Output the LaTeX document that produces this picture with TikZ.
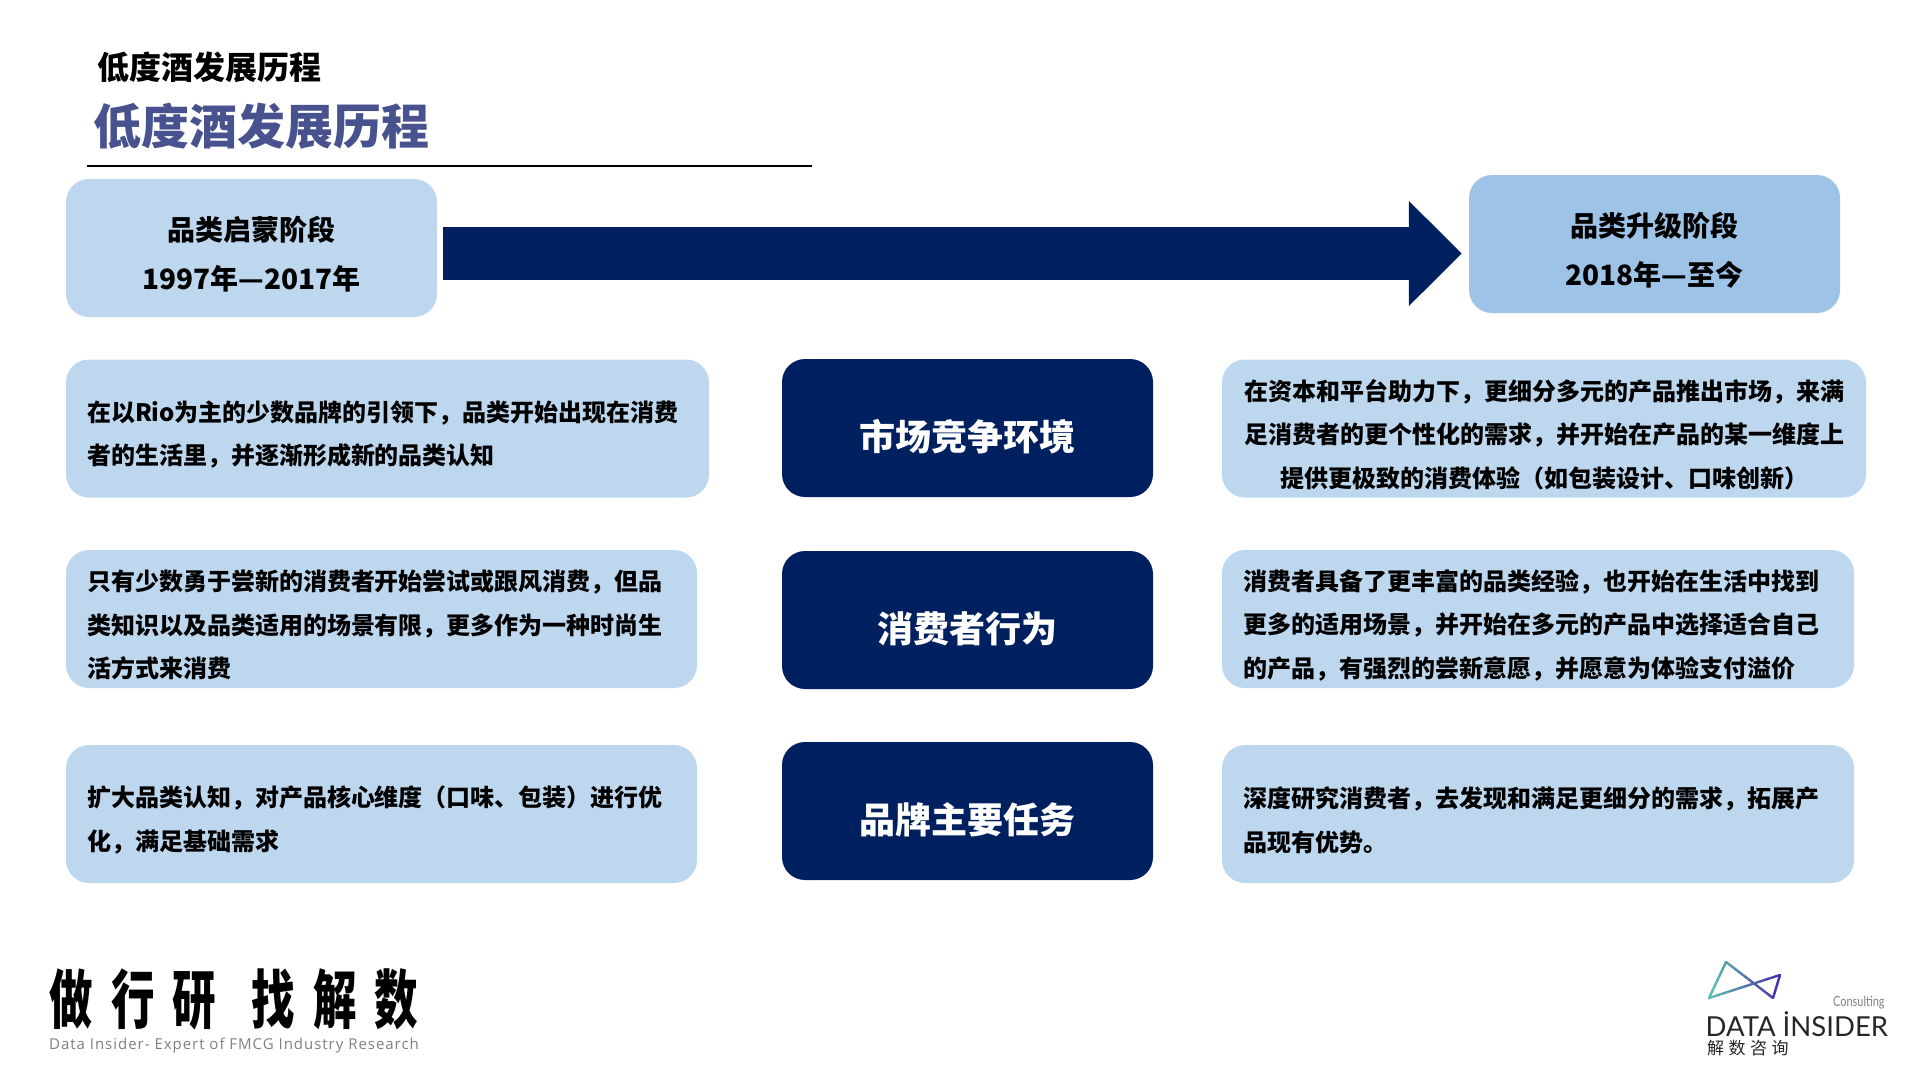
\documentclass[tikz,border=0pt]{standalone}
\usepackage{fontspec}
\setmainfont{Noto Sans CJK SC}
\newfontfamily\logofont{Lato}
\newfontfamily\taglinefont[LetterSpace=6.5]{Open Sans}
\usepackage{xcolor}
\usetikzlibrary{arrows.meta,calc,positioning}
\definecolor{paleblue}{HTML}{BDD7EE}
\definecolor{midblue}{HTML}{9DC3E6}
\definecolor{navy}{HTML}{002060}
\definecolor{titleblue}{HTML}{47528F}
\definecolor{logoteal}{HTML}{5CC4B4}
\definecolor{logoviolet}{HTML}{4A2CA8}

\begin{document}
\begin{tikzpicture}[
		x=1pt, y=-1pt,
		panel/.style={rectangle, rounded corners=23pt, fill=paleblue, inner xsep=21pt, inner ysep=0pt, minimum height=138pt},
		stagebox/.style={panel, align=center, minimum width=371pt, font=\bfseries\fontsize{28}{49}\selectfont, text width=329pt, text height=36pt},
		bodybox/.style={panel, font=\bfseries\fontsize{24}{43.5}\selectfont, text height=33pt},
		themebox/.style={rectangle, rounded corners=23pt, fill=navy, text=white, minimum width=371pt, minimum height=138pt, inner sep=0pt, font=\bfseries\fontsize{36}{44}\selectfont, text height=44pt, text depth=0pt},
		bigarrow/.style={-{Triangle[length=53pt,width=102pt]}, line width=53pt, draw=navy, shorten <=6pt, shorten >=7pt},
		plain/.style={inner sep=0pt}
		]
		\useasboundingbox (0,0) rectangle (1920,1080);
	
		% --- Titre ---
		\node[plain, anchor=west, font=\bfseries\fontsize{32}{38}\selectfont] (subject) at (97,67) {低度酒发展历程};
		\node[plain, anchor=west, font=\bfseries\fontsize{48}{56}\selectfont, text=titleblue] (heading) at (93.5,126) {低度酒发展历程};
		\coordinate (ruleL) at (87,165.5);
		\coordinate (ruleR) at (812,165.5);
		\draw[line width=2pt] (ruleL) -- (ruleR);
	
		% --- Les deux phases et la flèche ---
		\node[stagebox, fill=paleblue] (stageA) at (251.5,248) {品类启蒙阶段\\1997年—2017年};
		\node[stagebox, fill=midblue] (stageB) at (1654.5,244) {品类升级阶段\\2018年—至今};
		\coordinate (flowmid) at (950,253.5);
		\draw[bigarrow] (stageA.east |- flowmid) -- (stageB.west |- flowmid);
	
		% --- Colonne gauche ---
		\node[bodybox, minimum width=643pt, text width=601pt, align=left] (leftA) at (387.5,428.5) {在以Rio为主的少数品牌的引领下，品类开始出现在消费\\者的生活里，并逐渐形成新的品类认知};
		\node[bodybox, minimum width=631pt, text width=589pt, align=left] (leftB) at (381.5,619) {只有少数勇于尝新的消费者开始尝试或跟风消费，但品\\类知识以及品类适用的场景有限，更多作为一种时尚生\\活方式来消费};
		\node[bodybox, minimum width=631pt, text width=589pt, align=left] (leftC) at (381.5,814) {扩大品类认知，对产品核心维度（口味、包装）进行优\\化，满足基础需求};
	
		% --- Colonne centrale ---
		\node[themebox] (themeA) at (967.5,428) {市场竞争环境};
		\node[themebox] (themeB) at (967.5,620) {消费者行为};
		\node[themebox] (themeC) at (967.5,811) {品牌主要任务};
	
		% --- Colonne droite ---
		\node[bodybox, minimum width=644pt, text width=602pt, align=center] (rightA) at (1544,428.5) {在资本和平台助力下，更细分多元的产品推出市场，来满\\足消费者的更个性化的需求，并开始在产品的某一维度上\\提供更极致的消费体验（如包装设计、口味创新）};
		\node[bodybox, minimum width=632pt, text width=590pt, align=left] (rightB) at (1538,619) {消费者具备了更丰富的品类经验，也开始在生活中找到\\更多的适用场景，并开始在多元的产品中选择适合自己\\的产品，有强烈的尝新意愿，并愿意为体验支付溢价};
		\node[bodybox, minimum width=632pt, text width=590pt, align=left] (rightC) at (1538,814) {深度研究消费者，去发现和满足更细分的需求，拓展产\\品现有优势。};
	
		% --- Slogan ---
		\node[plain, anchor=west] (slogan) at (49,999) {\scalebox{0.68}[1]{\bfseries\fontsize{64}{72}\selectfont 做\hspace{27pt}行\hspace{27pt}研\hspace{51pt}找\hspace{27pt}解\hspace{27pt}数}};
		\node[plain, anchor=west, text=gray, font=\taglinefont\fontsize{15}{18}\selectfont] (tagline) at (49,1046) {Data Insider- Expert of FMCG Industry Research};
	
		% --- Logo ---
		\foreach \xa/\ya/\xb/\yb in {1709/998/1726/962, 1726/962/1773/998, 1773/998/1780/975, 1780/975/1709/998} {
			\foreach \t in {0,...,9} {
				\pgfmathsetmacro{\mixval}{100-(\xa+(\t+.5)/10*(\xb-\xa)-1709)/71*100}
				\draw[line width=2.4pt, line cap=round, draw=logoteal!\mixval!logoviolet]
					({\xa+\t/10*(\xb-\xa)},{\ya+\t/10*(\yb-\ya)}) -- ({\xa+(\t+1)/10*(\xb-\xa)},{\ya+(\t+1)/10*(\yb-\ya)});
			}
		}
		\node[plain, anchor=west, text=gray] (consulting) at (1833,1003) {\scalebox{0.78}[1]{\logofont\fontsize{14}{18}\selectfont Consulting}};
		\node[plain, anchor=west, text=black!85, font=\logofont\fontsize{27.5}{30}\selectfont] (brand) at (1705.5,1024) {DATA İNSIDER};
		\node[plain, anchor=west, text=black!85, font=\fontsize{17}{20}\selectfont] (brandcn) at (1707,1048) {解\hspace{4.5pt}数\hspace{4.5pt}咨\hspace{4.5pt}询};
	
	\end{tikzpicture}
\end{document}
